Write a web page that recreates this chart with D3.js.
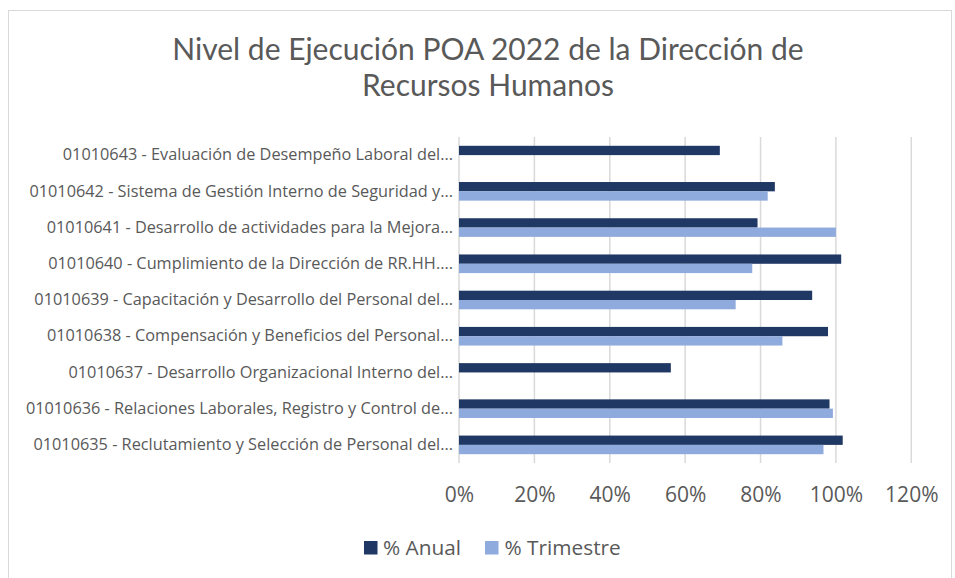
<!DOCTYPE html>
<html>
<head>
<meta charset="utf-8">
<script src="https://cdn.jsdelivr.net/npm/d3@7"></script>
<style>
  html, body { margin: 0; padding: 0; background: #fff; }
  svg { display: block; }
</style>
</head>
<body>
<svg id="chart" width="955" height="578"></svg>
<script>
const titleLines = ["Nivel de Ejecución POA 2022 de la Dirección de", "Recursos Humanos"];
const categories = [
  "01010643 - Evaluación de Desempeño Laboral del...",
  "01010642 - Sistema de Gestión Interno de Seguridad y...",
  "01010641 - Desarrollo de actividades para la Mejora...",
  "01010640 - Cumplimiento de la Dirección de RR.HH....",
  "01010639 - Capacitación y Desarrollo del Personal del...",
  "01010638 - Compensación y Beneficios del Personal...",
  "01010637 - Desarrollo Organizacional Interno del...",
  "01010636 - Relaciones Laborales, Registro y Control de...",
  "01010635 - Reclutamiento y Selección de Personal del..."
];
const seriesNames = ["% Anual", "% Trimestre"];
const anual =     [0.692, 0.838, 0.792, 1.014, 0.937, 0.979, 0.562, 0.983, 1.018];
const trimestre = [null,  0.819, 1.000, 0.778, 0.734, 0.858, null,  0.992, 0.967];
const xTicks = [0, 0.2, 0.4, 0.6, 0.8, 1.0, 1.2];
const colors = ["#203864", "#8FAADC"];

const svg = d3.select("#chart");
const textColor = "#595959";

// chart border
svg.append("rect")
  .attr("x", 8.5).attr("y", 10.5).attr("width", 943).attr("height", 580)
  .attr("fill", "none").attr("stroke", "#d9d9d9").attr("stroke-width", 1);

// title
svg.append("g").selectAll("text").data(titleLines).join("text")
  .attr("x", 488).attr("y", (d, i) => 60 + i * 36)
  .attr("text-anchor", "middle")
  .attr("font-family", "Lato, 'DejaVu Sans', sans-serif")
  .attr("font-size", 30)
  .attr("fill", textColor)
  .text(d => d);

const x = d3.scaleLinear().domain([0, 1.2]).range([459, 911.3]);
const y = d3.scaleBand().domain(categories).range([137, 463]).paddingInner(0.486).paddingOuter(0.243);
const ySub = d3.scaleBand().domain(seriesNames).range([0, y.bandwidth()]);

// gridlines
svg.append("g").selectAll("line").data(xTicks).join("line")
  .attr("x1", d => x(d)).attr("x2", d => x(d))
  .attr("y1", 137).attr("y2", 463)
  .attr("stroke", "#d9d9d9").attr("stroke-width", 1.5);

// x axis labels
const xAxis = d3.axisBottom(x).tickValues(xTicks).tickFormat(d3.format(".0%")).tickSize(0).tickPadding(0);
const gx = svg.append("g").attr("transform", "translate(0,502)").call(xAxis);
gx.select(".domain").remove();
gx.selectAll("text")
  .attr("dy", 0)
  .attr("font-family", "'Open Sans', sans-serif")
  .attr("font-size", 21)
  .attr("fill", textColor);

// y axis labels
const yAxis = d3.axisLeft(y).tickSize(0).tickPadding(6);
const gy = svg.append("g").attr("transform", "translate(459,0)").call(yAxis);
gy.select(".domain").remove();
gy.selectAll("text")
  .attr("font-family", "'Open Sans', sans-serif")
  .attr("font-size", 16.3)
  .attr("fill", textColor);

// bars
const series = [anual, trimestre];
series.forEach((vals, si) => {
  svg.append("g").selectAll("rect")
    .data(vals.map((v, i) => ({ c: categories[i], v })).filter(d => d.v !== null))
    .join("rect")
    .attr("x", x(0))
    .attr("y", d => y(d.c) + ySub(seriesNames[si]))
    .attr("width", d => x(d.v) - x(0))
    .attr("height", ySub.bandwidth())
    .attr("fill", colors[si]);
});

// legend
const legendItems = [
  { name: seriesNames[0], color: colors[0], sx: 364, tx: 383 },
  { name: seriesNames[1], color: colors[1], sx: 485, tx: 504.5 }
];
const lg = svg.append("g");
legendItems.forEach(it => {
  lg.append("rect").attr("x", it.sx).attr("y", 541).attr("width", 13.5).attr("height", 13.5).attr("fill", it.color);
  lg.append("text").attr("x", it.tx).attr("y", 554.5)
    .attr("font-family", "'Open Sans', sans-serif").attr("font-size", 20.8)
    .attr("fill", textColor).text(it.name);
});
</script>
</body>
</html>
